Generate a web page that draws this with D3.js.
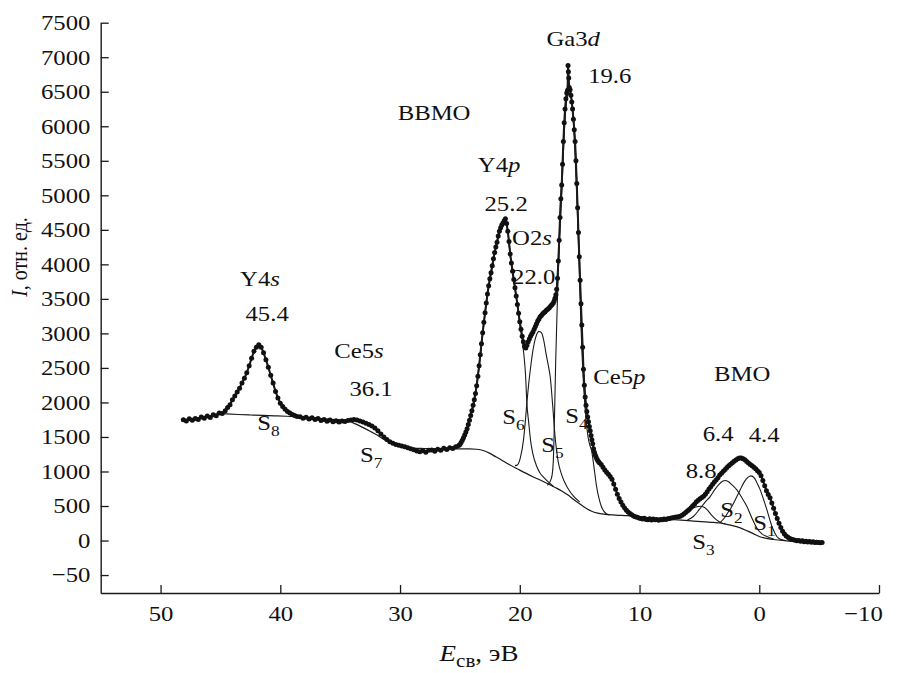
<!DOCTYPE html>
<html>
<head>
<meta charset="utf-8">
<script src="https://cdn.jsdelivr.net/npm/d3@7/dist/d3.min.js"></script>
<style>
  html, body { margin: 0; padding: 0; background: #fff; }
  svg { display: block; }
  text { font-family: "Liberation Serif", "Times New Roman", serif; fill: #111; }
</style>
</head>
<body>
<svg id="chart" width="901" height="673"></svg>
<script>
// ---------------- data ----------------
const energyTicks = [50, 40, 30, 20, 10, 0, -10];
const intensityTicks = [7500, 7000, 6500, 6000, 5500, 5000, 4500, 4000, 3500, 3000, 2500, 2000, 1500, 1000, 500, 0, -500];
const intensityTickLabels = ["7500", "7000", "6500", "6000", "5500", "5000", "4500", "4000", "3500", "3000", "2500", "2000", "1500", "1000", "500", "0", "\u221250"];

// measured spectrum [binding energy, intensity]
const spectrum = [
  [48.1,1750],[47.85,1732],[47.6,1762],[47.35,1741],[47.1,1768],[46.85,1752],[46.6,1788],[46.35,1770],[46.1,1802],[45.85,1783],[45.6,1822],[45.35,1808],[45.1,1846],[44.85,1838],[44.6,1880],[44.4,1925],
  [44.2,1965],[44.0,2040],[43.8,2095],[43.6,2150],[43.4,2205],[43.2,2280],[43.0,2350],[42.8,2430],[42.6,2530],[42.4,2640],[42.2,2740],[42.0,2800],[41.8,2835],[41.6,2800],[41.4,2720],[41.2,2620],[41.0,2510],[40.8,2395],[40.6,2280],[40.4,2160],[40.2,2065],[40.0,1990],[39.8,1940],[39.6,1900],[39.4,1870],[39.2,1848],[39.0,1826],[38.8,1812],[38.6,1798],
  [38.35,1792],[38.1,1772],[37.85,1786],[37.6,1760],[37.35,1778],[37.1,1754],[36.85,1766],[36.6,1738],[36.35,1752],[36.1,1729],[35.85,1746],[35.6,1722],[35.35,1736],[35.1,1718],[34.85,1731],[34.6,1724],[34.35,1740],[34.1,1744],[33.85,1752],[33.6,1745],[33.35,1730],[33.1,1715],[32.85,1700],[32.6,1682],[32.35,1660],[32.1,1628],[31.85,1590],[31.6,1542],[31.35,1500],[31.1,1462],[30.85,1432],[30.6,1410],[30.35,1392],[30.1,1380],[29.85,1368],[29.6,1358],[29.35,1342],[29.1,1330],[28.85,1316],[28.6,1298],[28.35,1284],[28.1,1302],[27.85,1280],[27.6,1306],[27.35,1312],[27.1,1294],[26.85,1322],[26.6,1308],[26.35,1336],[26.1,1318],[25.85,1344],[25.6,1334],[25.35,1360],[25.1,1376],
  [25.0,1392],[24.9,1420],[24.8,1452],[24.7,1490],[24.6,1530],[24.5,1572],[24.4,1620],[24.3,1680],[24.2,1742],[24.1,1810],[24.0,1880],[23.9,1960],[23.8,2040],[23.7,2130],[23.6,2240],[23.5,2380],[23.4,2530],[23.3,2690],[23.2,2850],[23.1,3010],[23.0,3160],[22.9,3300],[22.8,3440],[22.7,3570],[22.6,3690],[22.5,3790],[22.4,3880],[22.3,3980],[22.2,4080],[22.1,4170],[22.0,4250],[21.9,4320],[21.8,4410],[21.7,4480],[21.6,4530],[21.5,4570],[21.4,4600],[21.3,4630],[21.2,4660],[21.1,4590],[21.0,4480],[20.9,4330],[20.8,4150],[20.7,4020],[20.6,3900],[20.5,3780],[20.4,3660],[20.3,3540],[20.2,3420],[20.1,3290],[20.0,3170],[19.9,3060],[19.8,2960],[19.7,2880],[19.6,2810],[19.5,2790],[19.4,2830],[19.3,2880],[19.2,2920],[19.1,2960],[19.0,2990],[18.9,3020],[18.8,3060],[18.7,3100],[18.6,3140],[18.5,3180],[18.4,3210],[18.3,3240],[18.2,3260],[18.1,3280],[18.0,3300],[17.9,3310],[17.8,3330],[17.7,3345],[17.6,3360],[17.5,3380],[17.4,3400],[17.3,3420],
  [17.2,3440],[17.13,3470],[17.06,3510],[16.99,3560],[16.92,3640],[16.85,3800],[16.78,4050],[16.71,4350],[16.64,4680],[16.57,4950],[16.5,5150],[16.43,5450],[16.36,5780],[16.29,6050],[16.22,6250],[16.15,6400],[16.08,6480],[16.01,6520],[15.97,6880],[15.94,6790],[15.91,6700],[15.87,6560],[15.8,6530],[15.73,6450],[15.66,6350],[15.59,6250],[15.52,6100],[15.45,5950],[15.38,5780],[15.31,5500],[15.24,5170],[15.17,4820],[15.1,4460],[15.03,4110],[14.96,3770],[14.89,3430],[14.82,3120],[14.75,2800],[14.68,2480],[14.61,2250],[14.54,2080],[14.47,1960],[14.4,1870],[14.33,1790],[14.26,1720],[14.19,1650],[14.12,1590],[14.05,1520],[13.98,1460],[13.91,1400],[13.84,1330],[13.77,1280],[13.7,1240],[13.63,1210],[13.56,1180],[13.49,1160],[13.42,1140],[13.35,1125],
  [13.2,1100],[13.05,1062],[12.9,1022],[12.75,990],[12.6,960],[12.45,928],[12.3,888],[12.15,820],[12.0,742],[11.85,672],[11.7,610],[11.55,558],[11.4,512],[11.25,472],[11.1,440],[10.95,412],[10.8,390],[10.65,372],[10.5,356],[10.35,344],[10.2,336],[10.05,326],[9.9,320],[9.75,312],[9.6,322],[9.45,306],[9.3,302],[9.15,316],[9.0,298],[8.85,310],[8.7,300],[8.55,306],[8.4,294],[8.25,306],[8.1,300],[7.95,312],[7.8,304],[7.65,316],[7.5,318],[7.35,326],[7.2,330],[7.05,336],[6.9,340],[6.75,346],[6.6,352],[6.45,366],[6.3,386],[6.15,406],[6.0,426],[5.85,450],[5.7,476],[5.55,504],[5.4,530],[5.25,560],[5.1,584],[4.95,604],[4.8,622],[4.65,642],[4.5,670],[4.35,708],[4.2,746],[4.05,780],[3.9,814],[3.75,846],[3.6,876],[3.45,910],[3.3,948],[3.15,976],[3.0,1002],[2.85,1030],[2.7,1058],[2.55,1084],[2.4,1106],[2.25,1126],[2.1,1150],[1.95,1168],[1.8,1186],[1.65,1196],[1.5,1194],[1.35,1186],[1.2,1170],[1.05,1146],[0.9,1122],[0.75,1100],[0.6,1084],[0.45,1062],[0.3,1040],[0.15,1012],[0.0,984],[-0.15,940],[-0.3,870],[-0.45,792],[-0.6,722],[-0.75,668],[-0.9,618],[-1.05,542],[-1.2,468],[-1.35,392],[-1.5,318],[-1.65,250],[-1.8,188],[-1.95,136],[-2.1,96],[-2.25,66],[-2.4,46],[-2.55,30],[-2.7,20],[-2.85,10],[-3.0,4],[-3.15,-4],[-3.3,2],[-3.45,-10],[-3.6,-4],[-3.75,-16],[-3.9,-10],[-4.05,-20],[-4.2,-14],[-4.35,-24],[-4.5,-18],[-4.65,-28],[-4.8,-24],[-4.95,-30],[-5.1,-34],[-5.25,-28]
];

// fitted envelope over the valence band
const fitEnvelope = [
  [25.3,1345],[25.0,1390],[24.6,1530],[24.2,1740],[23.8,2040],[23.4,2530],[23.0,3160],[22.6,3690],[22.2,4080],[21.8,4410],[21.5,4570],[21.2,4630],[21.0,4480],[20.8,4150],[20.5,3780],[20.2,3420],[19.9,3060],[19.7,2880],[19.55,2800],[19.4,2830],[19.1,2960],[18.8,3060],[18.5,3180],[18.2,3260],[17.9,3310],[17.6,3360],[17.3,3420],[17.1,3480],[16.95,3600],[16.8,3980],[16.6,4850],[16.4,5600],[16.2,6200],[16.0,6500],[15.85,6550],[15.7,6420],[15.5,6080],[15.3,5450],[15.1,4460],[14.9,3400],[14.7,2560],[14.5,2020],[14.3,1760],[14.1,1570],[13.9,1390]
];

// inelastic background
const background = [
  [45.3,1845],[44.5,1835],[43.5,1825],[42.5,1818],[41.5,1812],[40.5,1806],[39.5,1800],[38.5,1792],[37.5,1780],[36.5,1765],[35.5,1752],[34.5,1740],[34.0,1712],[33.5,1672],[33.0,1628],[32.5,1582],[32.0,1535],[31.5,1482],[31.0,1428],[30.5,1388],[30.0,1362],[29.5,1346],[29.0,1338],[28.0,1333],[27.0,1330],[26.0,1329],[25.0,1328],[24.2,1327],[23.6,1322],[23.0,1300],[22.5,1262],[22.0,1212],[21.6,1175],[21.0,1112],[20.0,1020],[19.0,932],[18.0,852],[17.0,765],[16.5,718],[16.0,662],[15.5,595],[15.0,532],[14.5,472],[14.0,425],[13.5,398],[13.0,382],[12.0,368],[11.0,360],[10.0,345],[9.0,325],[8.3,314],[7.5,305],[6.5,295],[5.5,282],[4.5,270],[3.8,262],[3.26,254],[2.5,226],[1.59,184],[1.0,140],[0.5,100],[0.0,58],[-0.6,30],[-1.2,15],[-1.75,5],[-2.5,-8],[-3.0,-14]
];

// fitted components S1..S8 (background included)
const s1 = [[3.3,256],[2.9,330],[2.6,410],[2.29,492],[1.95,610],[1.59,734],[1.25,850],[0.95,915],[0.7,937],[0.4,905],[0.15,820],[-0.08,734],[-0.35,600],[-0.64,445],[-0.85,320],[-1.06,203],[-1.3,110],[-1.47,58],[-1.8,15],[-2.2,0]];
const s2 = [[6.0,296],[5.5,348],[5.0,450],[4.5,560],[4.1,637],[3.7,740],[3.4,806],[3.1,855],[2.85,870],[2.6,855],[2.3,810],[1.87,734],[1.45,620],[1.03,492],[0.6,320],[0.2,180],[-0.2,100],[-0.64,58],[-1.2,22]];
const s3 = [[7.7,306],[7.2,322],[6.7,352],[6.2,400],[5.7,455],[5.3,486],[4.93,496],[4.6,482],[4.3,435],[4.0,372],[3.6,302],[3.2,258],[2.8,236]];
const s4 = [[17.7,800],[17.45,860],[17.3,950],[17.2,1150],[17.1,1800],[17.0,2600],[16.88,3350],[16.78,3900],[16.64,4500],[16.5,5000],[16.36,5600],[16.22,6100],[16.08,6380],[15.95,6470],[15.8,6480],[15.65,6350],[15.5,6000],[15.35,5450],[15.2,4800],[15.05,4000],[14.9,3150],[14.75,2500],[14.6,2050],[14.45,1720],[14.3,1500],[14.15,1380],[14.0,1300],[13.8,1060],[13.6,800],[13.4,620],[13.2,500],[13.0,430],[12.8,392],[12.5,372]];
const s5 = [[20.4,1085],[20.2,1095],[19.95,1200],[19.69,1458],[19.55,1700],[19.41,1994],[19.25,2280],[19.1,2500],[18.95,2700],[18.8,2850],[18.6,2980],[18.4,3030],[18.2,3010],[18.0,2900],[17.8,2700],[17.6,2520],[17.46,2375],[17.25,1950],[17.03,1458],[16.8,1150],[16.5,950],[16.0,760],[15.5,640],[15.0,560]];
const s6 = [[25.2,1340],[24.8,1420],[24.4,1600],[24.0,1860],[23.6,2220],[23.2,2820],[22.8,3420],[22.4,3860],[22.0,4230],[21.6,4510],[21.35,4610],[21.2,4630],[21.0,4470],[20.8,4120],[20.5,3760],[20.25,3460],[20.0,3140],[19.8,2900],[19.65,2680],[19.52,2400],[19.41,1994],[19.25,1700],[19.1,1450],[18.9,1250],[18.6,1080],[18.3,975],[18.0,915],[17.6,845],[17.2,785]];
const s7 = [[35.5,1752],[35.0,1745],[34.5,1742],[34.0,1740],[33.6,1738],[33.2,1722],[32.8,1695],[32.4,1655],[32.0,1600],[31.6,1540],[31.2,1480],[30.8,1432],[30.4,1400],[30.0,1375],[29.6,1356],[29.2,1342]];
const s8 = [[45.3,1845],[44.8,1860],[44.4,1920],[44.0,2030],[43.6,2150],[43.2,2280],[42.8,2430],[42.4,2640],[42.1,2770],[41.8,2830],[41.5,2770],[41.2,2610],[40.9,2440],[40.6,2270],[40.3,2110],[40.0,1985],[39.6,1890],[39.2,1838],[38.8,1808],[38.4,1795]];
const components = [s1, s2, s3, s4, s5, s6, s7, s8];

// ---------------- layout ----------------
const FONT_SIZE = 21.5;
const SX = 1.15;               // horizontal stretch of the serif type
const svg = d3.select("#chart");

const x = d3.scaleLinear().domain([55, -10]).range([100.7, 879]);
const y = d3.scaleLinear().domain([-760, 7500]).range([593, 22.7]);

// axes
const xAxis = svg.append("g")
  .attr("transform", `translate(0,${y.range()[0]})`)
  .call(d3.axisBottom(x).tickValues(energyTicks).tickSizeInner(-8).tickSizeOuter(0).tickPadding(13)
    .tickFormat(d => d < 0 ? "\u2212" + Math.abs(d) : String(d)));

const yAxis = svg.append("g")
  .attr("transform", `translate(${x.range()[0]},0)`)
  .call(d3.axisLeft(y).tickValues(intensityTicks).tickSizeInner(-8).tickSizeOuter(0).tickPadding(9)
    .tickFormat((d, i) => intensityTickLabels[i]));

[xAxis, yAxis].forEach(g => {
  g.attr("font-family", null).attr("font-size", null);
  g.select(".domain").attr("stroke", "#1a1a1a").attr("stroke-width", 1.4);
  g.selectAll(".tick line").attr("stroke", "#1a1a1a").attr("stroke-width", 1.3);
  g.selectAll(".tick text")
    .attr("font-size", FONT_SIZE)
    .attr("fill", "#111")
    .attr("transform", `scale(${SX},1)`);
});
xAxis.selectAll(".tick text").filter(d => d < 0).attr("dx", -14);

// curves
const line = d3.line().x(d => x(d[0])).y(d => y(d[1]));
const smooth = d3.line().x(d => x(d[0])).y(d => y(d[1])).curve(d3.curveMonotoneX);

const curves = svg.append("g").attr("fill", "none").attr("stroke", "#1a1a1a");
curves.append("path").attr("d", smooth(background)).attr("stroke-width", 1.2);
curves.selectAll("path.component").data(components).join("path")
  .attr("class", "component")
  .attr("d", d => smooth(d))
  .attr("stroke-width", 1.1);
curves.append("path").attr("d", smooth(fitEnvelope)).attr("stroke-width", 1.3);
curves.append("path").attr("d", line(spectrum)).attr("stroke-width", 2.0)
  .attr("stroke-linejoin", "round");

svg.append("g").attr("fill", "#111")
  .selectAll("circle").data(spectrum).join("circle")
  .attr("cx", d => x(d[0]))
  .attr("cy", d => y(d[1]))
  .attr("r", 2.5);

// text annotations
function addLabel(px, py, parts, anchor, size, subScale) {
  size = size || FONT_SIZE;
  subScale = subScale || 0.7;
  const t = svg.append("text")
    .attr("transform", `translate(${px},${py}) scale(${SX},1)`)
    .attr("text-anchor", anchor || "middle")
    .attr("font-size", size);
  let shift = 0;
  parts.forEach(([str, style]) => {
    const ts = t.append("tspan").text(str);
    if (style === "i") ts.attr("font-style", "italic");
    if (style === "sub") {
      const d = size * 0.27;
      ts.attr("font-size", size * subScale).attr("dy", d);
      shift += d;
    } else if (shift) {
      ts.attr("dy", -shift);
      shift = 0;
    }
  });
  return t;
}

const annotations = [
  { E: 15.54, I: 7163, parts: [["Ga3"], ["d", "i"]] },
  { E: 14.29, I: 6629, parts: [["19.6"]], anchor: "start" },
  { E: 27.16, I: 6090, parts: [["BBMO"]] },
  { E: 21.73, I: 5339, parts: [["Y4"], ["p", "i"]] },
  { E: 21.14, I: 4774, parts: [["25.2"]] },
  { E: 20.64, I: 4282, parts: [["O2"], ["s", "i"]], anchor: "start" },
  { E: 20.64, I: 3717, parts: [["22.0"]], anchor: "start" },
  { E: 41.70, I: 3688, parts: [["Y4"], ["s", "i"]] },
  { E: 41.10, I: 3181, parts: [["45.4"]] },
  { E: 33.43, I: 2645, parts: [["Ce5"], ["s", "i"]] },
  { E: 32.42, I: 2095, parts: [["36.1"]] },
  { E: 13.87, I: 2269, parts: [["Ce5"], ["p", "i"]], anchor: "start" },
  { E: 1.43, I: 2312, parts: [["BMO"]] },
  { E: 3.44, I: 1444, parts: [["6.4"]] },
  { E: -0.41, I: 1429, parts: [["4.4"]] },
  { E: 4.85, I: 908, parts: [["8.8"]] },
  { E: 41.93, I: 1603, parts: [["S"], ["8", "sub"]], anchor: "start" },
  { E: 33.34, I: 1140, parts: [["S"], ["7", "sub"]], anchor: "start" },
  { E: 21.47, I: 1690, parts: [["S"], ["6", "sub"]], anchor: "start" },
  { E: 18.20, I: 1285, parts: [["S"], ["5", "sub"]], anchor: "start" },
  { E: 16.20, I: 1704, parts: [["S"], ["4", "sub"]], anchor: "start" },
  { E: 5.60, I: -120, parts: [["S"], ["3", "sub"]], anchor: "start" },
  { E: 3.26, I: 344, parts: [["S"], ["2", "sub"]], anchor: "start" },
  { E: 0.50, I: 155, parts: [["S"], ["1", "sub"]], anchor: "start" }
];
annotations.forEach(a => addLabel(x(a.E), y(a.I), a.parts, a.anchor));

// axis titles
addLabel(479, 661, [["E", "i"], ["\u0441\u0432", "sub"], [", \u044d\u0412"]], "middle", 23.5, 0.78);

const yTitle = svg.append("text")
  .attr("transform", "translate(27,257) rotate(-90) scale(1,1.15)")
  .attr("text-anchor", "middle")
  .attr("font-size", 20);
yTitle.append("tspan").attr("font-style", "italic").text("I");
yTitle.append("tspan").text(", \u043e\u0442\u043d. \u0435\u0434.");
</script>
</body>
</html>
